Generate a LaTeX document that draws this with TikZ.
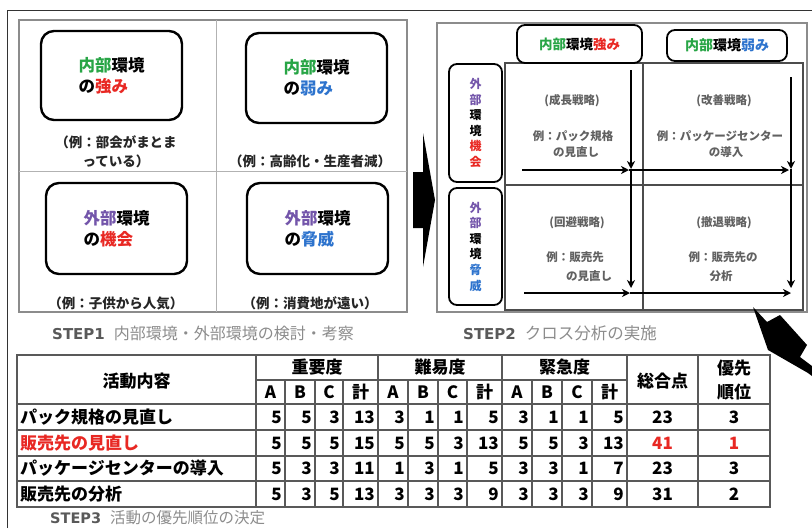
\documentclass[tikz,border=0pt]{standalone}
\usepackage{fontspec}
\setmainfont{Noto Sans CJK JP}
\newfontfamily\stepfont{DejaVu Sans}
\usetikzlibrary{arrows.meta}
\definecolor{jgreen}{RGB}{40,165,70}
\definecolor{jred}{RGB}{232,40,35}
\definecolor{jblue}{RGB}{45,115,205}
\definecolor{jpurple}{RGB}{115,85,170}
\newcommand{\NB}{\textcolor{jgreen}{内部}}
\newcommand{\GB}{\textcolor{jpurple}{外部}}
\newcommand{\RD}[1]{\textcolor{jred}{#1}}
\newcommand{\BL}[1]{\textcolor{jblue}{#1}}
\begin{document}
\begin{tikzpicture}[x=1pt,y=-1pt,
  rbox/.style={draw, line width=2.4pt, rounded corners=13pt, inner sep=0pt, align=left},
  hbox/.style={draw, line width=1.8pt, rounded corners=8pt, inner sep=0pt},
  boxtext/.style={font=\fontsize{16.5}{21}\selectfont\bfseries},
  captxt/.style={font=\fontsize{13.5}{19}\selectfont\bfseries, text=black!85, inner sep=0pt, align=center},
  celltxt/.style={font=\fontsize{11.5}{15}\selectfont\bfseries, text=black!62, inner sep=0pt},
  panelframe/.style={draw=black!45, line width=1.2pt},
  gridl/.style={draw=black!70, line width=1.2pt},
  arr/.style={line width=1.4pt, -{Stealth[length=8pt,width=8pt,inset=2.5pt]}},
  tline/.style={draw=black!65, line width=1.6pt},
  ttext/.style={font=\fontsize{17}{20}\selectfont\bfseries, inner sep=0pt},
  steplbl/.style={inner sep=0pt, anchor=west},
]
\useasboundingbox (0,0) rectangle (812,528);
% outer frame
\draw[line width=1pt, black!80] (7,528) -- (7,10) -- (812,10);

% ---------- STEP1 panel ----------
\draw[panelframe] (19,20) rectangle (407,312);
\draw[draw=black!30, line width=1pt] (216,20) -- (216,312);
\draw[draw=black!30, line width=1pt] (19,171) -- (407,171);

\node[rbox, boxtext, minimum width=141pt, minimum height=89pt] (b1) at (111.5,75.5) {\NB 環境\\の\RD{強み}};
\node[rbox, boxtext, minimum width=141pt, minimum height=90pt] (b2) at (316.5,78) {\NB 環境\\の\BL{弱み}};
\node[rbox, boxtext, minimum width=141pt, minimum height=91pt] (b3) at (116.5,228.5) {\GB 環境\\の\RD{機会}};
\node[rbox, boxtext, minimum width=141pt, minimum height=91pt] (b4) at (317.5,228.5) {\GB 環境\\の\BL{脅威}};

\node[captxt] (c1) at (116,151.5) {（例：部会がまとま\\っている）};
\node[captxt] (c2) at (310,161) {（例：高齢化・生産者減）};
\node[captxt] (c3) at (116,303) {（例：子供から人気）};
\node[captxt] (c4) at (310,303) {（例：消費地が遠い）};

\node[steplbl] (s1) at (52,333) {\textcolor{black!65}{\stepfont\bfseries\fontsize{15}{18}\selectfont STEP1}\hspace{9pt}\textcolor{black!45}{\fontsize{16}{18}\selectfont 内部環境・外部環境の検討・考察}};

% big arrow between panels
\fill[black] (413,172) -- (423,172) -- (423,133) -- (435,200) -- (423,267) -- (423,228) -- (413,228) -- cycle;

% ---------- STEP2 panel ----------
\draw[panelframe] (437,23) rectangle (807,312);
\draw[gridl] (505,63) rectangle (803,310);
\draw[gridl] (643,63) -- (643,310);
\draw[gridl] (505,185) -- (803,185);

\node[hbox, minimum width=125pt, minimum height=38pt, font=\fontsize{13.5}{16}\selectfont\bfseries] (h1) at (579.5,44) {\NB 環境\RD{強み}};
\node[hbox, minimum width=120pt, minimum height=31pt, font=\fontsize{14}{16}\selectfont\bfseries] (h2) at (727,45.5) {\NB 環境\BL{弱み}};
\node[hbox, minimum width=53pt, minimum height=118pt, align=center, font=\fontsize{12}{15.6}\selectfont\bfseries] (v1) at (475.5,123) {\textcolor{jpurple}{外}\\\textcolor{jpurple}{部}\\環\\境\\\RD{機}\\\RD{会}};
\node[hbox, minimum width=53pt, minimum height=117pt, align=center, font=\fontsize{12}{15.6}\selectfont\bfseries] (v2) at (475.5,246.5) {\textcolor{jpurple}{外}\\\textcolor{jpurple}{部}\\環\\境\\\BL{脅}\\\BL{威}};

\node[celltxt] (t1a) at (572,101) {(成長戦略)};
\node[celltxt] (t1b) at (573,136) {例：パック規格};
\node[celltxt] (t1c) at (576,152) {の見直し};
\node[celltxt] (t2a) at (724,101) {(改善戦略)};
\node[celltxt] (t2b) at (720,136) {例：パッケージセンター};
\node[celltxt] (t2c) at (726,152) {の導入};
\node[celltxt] (t3a) at (577,223) {(回避戦略)};
\node[celltxt] (t3b) at (575,257) {例：販売先};
\node[celltxt] (t3c) at (589,276) {の見直し};
\node[celltxt] (t4a) at (724,223) {(撤退戦略)};
\node[celltxt] (t4b) at (723,257) {例：販売先の};
\node[celltxt] (t4c) at (721,276) {分析};

\coordinate (va0) at (631,70);  \coordinate (va1) at (631,169); \coordinate (va2) at (631,288);
\coordinate (vb0) at (791,77);  \coordinate (vb1) at (791,169); \coordinate (vb2) at (791,288);
\coordinate (ha0) at (522,170); \coordinate (ha1) at (629,170); \coordinate (ha2) at (789,170);
\coordinate (hb0) at (524,293); \coordinate (hb1) at (630,293); \coordinate (hb2) at (791,293);
\draw[arr] (va0) -- (va1); \draw[arr] (va1) -- (va2);
\draw[arr] (vb0) -- (vb1); \draw[arr] (vb1) -- (vb2);
\draw[arr] (ha0) -- (ha1); \draw[arr] (ha1) -- (ha2);
\draw[arr] (hb0) -- (hb1); \draw[arr] (hb1) -- (hb2);

\node[steplbl] (s2) at (463,333) {\textcolor{black!65}{\stepfont\bfseries\fontsize{15}{18}\selectfont STEP2}\hspace{9pt}\textcolor{black!45}{\fontsize{16.5}{18}\selectfont クロス分析の実施}};

% arrow bottom right
\fill[black] (753,307) -- (767,322) -- (780,315) -- (807,345) -- (800,357) -- (812,366) -- (812,376) -- (808,373) -- (768,350) -- cycle;

% ---------- STEP3 table ----------
\draw[tline] (17,355) rectangle (770,507);
\foreach \yy in {404,430,456,481} { \draw[tline] (17,\yy) -- (770,\yy); }
\draw[tline] (256,380) -- (627,380);
\foreach \xx in {256,378,502,627,698} { \draw[tline] (\xx,355) -- (\xx,507); }
\foreach \xx in {285,315,343,408,438,467,532,562,592} { \draw[tline] (\xx,380) -- (\xx,507); }

\node[ttext] (hd0) at (136.5,381) {活動内容};
\node[ttext] (hd1) at (317,367.5) {重要度};
\node[ttext] (hd2) at (440,367.5) {難易度};
\node[ttext] (hd3) at (564.5,367.5) {緊急度};
\node[ttext] (hd4) at (662.5,381) {総合点};
\node[ttext, align=center, font=\fontsize{17}{24}\selectfont\bfseries] (hd5) at (734,380) {優先\\順位};
\foreach \cx/\lb [count=\i] in {270.5/A,300/B,329/C,360.5/計,393/A,423/B,452.5/C,484.5/計,517/A,547/B,577/C,609.5/計} {
  \node[ttext] (sub\i) at (\cx,392.5) {\lb};
}

\node[ttext, anchor=west] (r1) at (20,417) {パック規格の見直し};
\node[ttext, anchor=west, text=jred] (r2) at (20,443) {販売先の見直し};
\node[ttext, anchor=west] (r3) at (20,468.5) {パッケージセンターの導入};
\node[ttext, anchor=west] (r4) at (20,494) {販売先の分析};

\foreach \ry/\vals [count=\r] in {417/{5,5,3,13,3,1,1,5,3,1,1,5}, 443/{5,5,5,15,5,5,3,13,5,5,3,13}, 468.5/{5,3,3,11,1,3,1,5,3,3,1,7}, 494/{5,3,5,13,3,3,3,9,3,3,3,9}} {
  \foreach \v [count=\i] in \vals {
    \pgfmathsetmacro\xr{{285,315,343,378,408,438,467,502,532,562,592,627}[\i-1]-3}
    \node[ttext, anchor=east] (n\r-\i) at (\xr,\ry) {\v};
  }
}
\node[ttext] (tot1) at (662.5,417) {23};
\node[ttext, text=jred] (tot2) at (662.5,443) {41};
\node[ttext] (tot3) at (662.5,468.5) {23};
\node[ttext] (tot4) at (662.5,494) {31};
\node[ttext] (pr1) at (734,417) {3};
\node[ttext, text=jred] (pr2) at (734,443) {1};
\node[ttext] (pr3) at (734,468.5) {3};
\node[ttext] (pr4) at (734,494) {2};

\node[steplbl] (s3) at (50,518) {\textcolor{black!65}{\stepfont\bfseries\fontsize{14.5}{17}\selectfont STEP3}\hspace{9pt}\textcolor{black!45}{\fontsize{15.5}{17}\selectfont 活動の優先順位の決定}};
\end{tikzpicture}
\end{document}
